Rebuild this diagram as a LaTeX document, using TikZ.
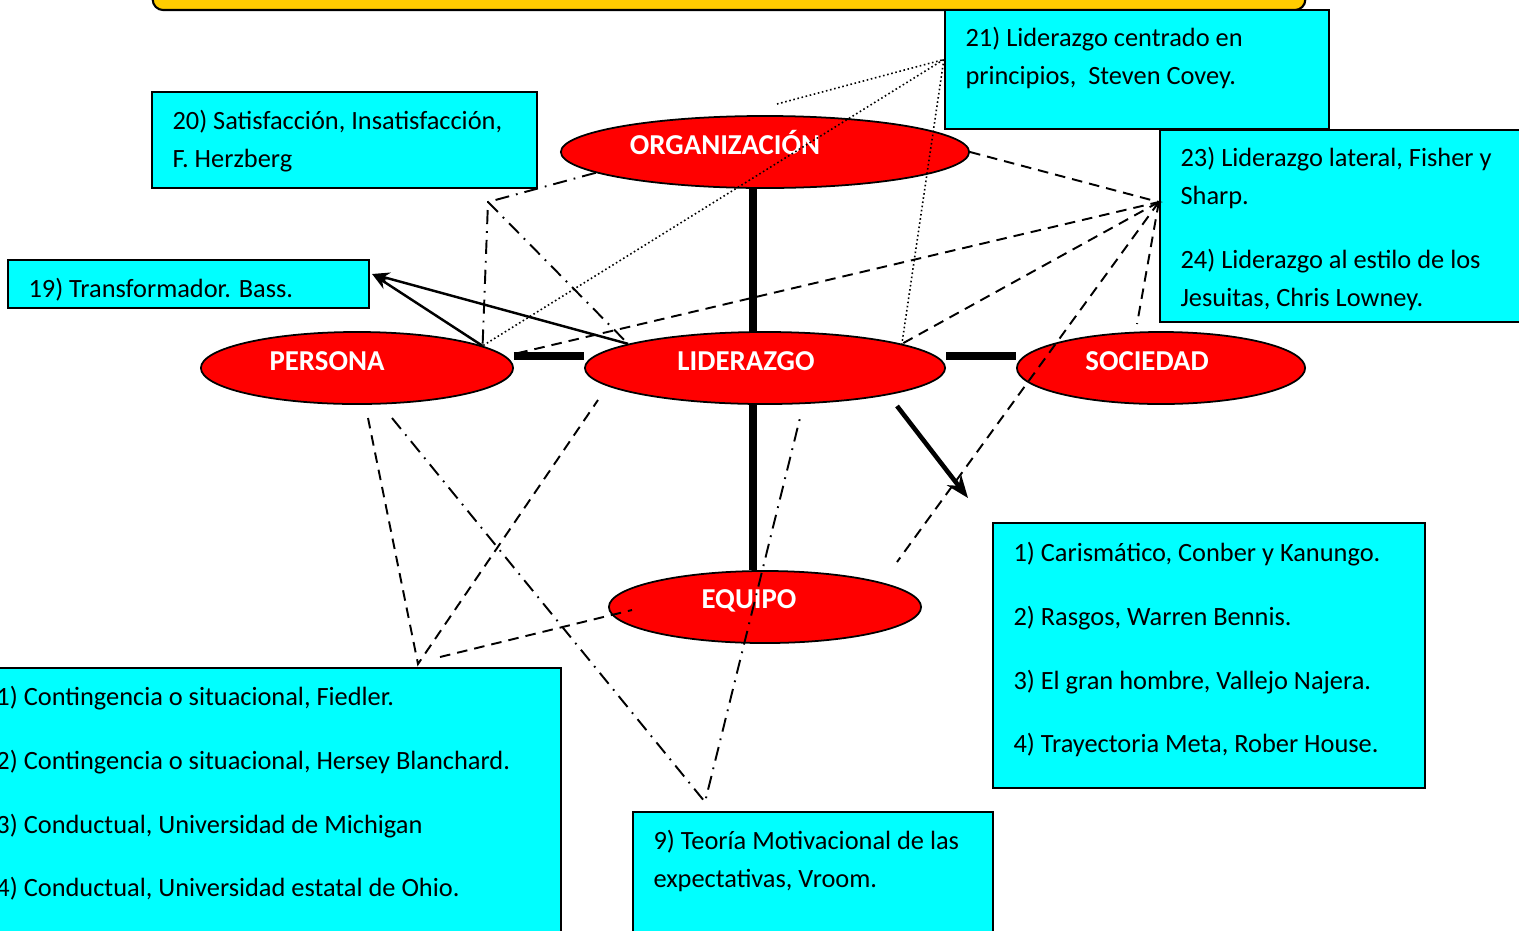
\documentclass[tikz,border=0pt]{standalone}
\usepackage{fontspec}
\setmainfont{Carlito}
\usepackage{tikz}
\usetikzlibrary{positioning, shapes.geometric, arrows.meta, calc}
\definecolor{rojo}{RGB}{255, 0, 0}
\definecolor{cian}{RGB}{0, 255, 255}
\definecolor{amarillo}{RGB}{255, 204, 0}
\newcommand{\lineas}[1]{\begin{tabular}[t]{@{}l@{}}#1\end{tabular}}

\begin{document}
\begin{tikzpicture}[x=0.01cm, y=-0.01cm, >=Stealth,
    ovalo/.style={draw, ellipse, fill=rojo, line width=0.5pt, inner sep=0pt, minimum height=0.72cm},
    rotulo/.style={font=\fontsize{8.2}{9.8}\selectfont\bfseries, text=white, inner sep=0pt},
    caja/.style={draw, rectangle, fill=cian, line width=0.6pt, inner sep=0pt},
    texto/.style={font=\fontsize{7.5}{10.8}\selectfont, anchor=base west, inner sep=0pt},
    barra/.style={line width=2pt},
    guion/.style={line width=0.55pt, dash pattern=on 3pt off 2pt},
    punteado/.style={line width=0.45pt, dash pattern=on 0.45pt off 0.75pt},
    rayapunto/.style={line width=0.55pt, dash pattern=on 4pt off 2pt on 0.5pt off 2pt},
    flecha/.style={line width=0.7pt, -{Stealth[length=5pt, width=3.6pt]}}]
    \path[use as bounding box, clip] (0,0) rectangle (1519,930);

    % Cuadros de autores
    \node [caja, fill=amarillo, rounded corners=3pt, minimum width=11.52cm, minimum height=0.8cm] (titulo) at (729,-30) {};
    \node [caja, minimum width=3.84cm, minimum height=1.19cm] (c21) at (1137,69.5) {};
    \node [caja, minimum width=3.85cm, minimum height=0.96cm] (c20) at (344.5,140) {};
    \node [caja, minimum width=3.80cm, minimum height=1.92cm] (c23) at (1350,226) {};
    \node [caja, minimum width=3.61cm, minimum height=0.48cm] (c19) at (188.5,284) {};
    \node [caja, minimum width=4.32cm, minimum height=2.65cm] (c1) at (1209,655.5) {};
    \node [caja, minimum width=5.85cm, minimum height=2.92cm] (c11) at (268.5,814) {};
    \node [caja, minimum width=3.60cm, minimum height=1.48cm] (c9) at (813,886) {};

    \node [texto] (x21) at ($(c21.north west)+(21,38)$) {\lineas{21) Liderazgo centrado en\\ principios,\ \ Steven Covey.}};
    \node [texto] (x20) at ($(c20.north west)+(21,39)$) {\lineas{20) Satisfacción, Insatisfacción,\\ F. Herzberg}};
    \node [texto] (x23) at ($(c23.north west)+(21,38)$) {\lineas{23) Liderazgo lateral, Fisher y\\ Sharp.\\[7.3pt] 24) Liderazgo al estilo de los\\ Jesuitas, Chris Lowney.}};
    \node [texto] (x19) at ($(c19.north west)+(21,39)$) {19) Transformador. Bass.};
    \node [texto] (x1) at ($(c1.north west)+(21,40)$) {\lineas{1) Carismático, Conber y Kanungo.\\[7.3pt] 2) Rasgos, Warren Bennis.\\[7.3pt] 3) El gran hombre, Vallejo Najera.\\[7.3pt] 4) Trayectoria Meta, Rober House.}};
    \node [texto] (x11) at ($(c11.north west)+(21,39)$) {\lineas{1) Contingencia o situacional, Fiedler.\\[7.3pt] 2) Contingencia o situacional, Hersey Blanchard.\\[7.3pt] 3) Conductual, Universidad de Michigan\\[7.3pt] 4) Conductual, Universidad estatal de Ohio.}};
    \node [texto] (x9) at ($(c9.north west)+(21,39)$) {\lineas{9) Teoría Motivacional de las\\ expectativas, Vroom.}};

    % Elipses
    \node [ovalo, minimum width=4.08cm] (org) at (765,152) {};
    \node [ovalo, minimum width=3.12cm] (per) at (357,368) {};
    \node [ovalo, minimum width=3.60cm] (lid) at (765,368) {};
    \node [ovalo, minimum width=2.88cm] (soc) at (1161,368) {};
    \node [ovalo, minimum width=3.12cm] (eq) at (765,607) {};
    \node [rotulo] (orgt) at ($(org)+(-40,-10)$) {ORGANIZACIÓN};
    \node [rotulo] (pert) at ($(per)+(-30,-7)$) {PERSONA};
    \node [rotulo] (lidt) at ($(lid)+(-19,-7)$) {LIDERAZGO};
    \node [rotulo] (soct) at ($(soc)+(-14,-7)$) {SOCIEDAD};
    \node [rotulo] (eqt) at ($(eq)+(-16,-6)$) {EQUIPO};

    % Uniones
    \draw [barra] ($(org.south)+(-12,0)$) -- ($(lid.north)+(-12,0)$);
    \draw [barra] ($(lid.south)+(-12,0)$) -- ($(eq.north)+(-12,0)$);
    \draw [barra, line width=2.4pt] ($(per.east)+(0,-12)$) -- ($(lid.west)+(0,-12)$);
    \draw [barra, line width=2.4pt] ($(lid.east)+(0,-12)$) -- ($(soc.west)+(0,-12)$);

    \coordinate (p21) at ($(c21.west)+(0,-10)$);
    \coordinate (p23) at ($(c23.west)+(0,-24)$);
    \coordinate (f19) at ($(c19.east)+(2,-10)$);
    \coordinate (vA) at (488,202);
    \coordinate (vB) at (705,802);
    \coordinate (vC) at (418,664);
    \coordinate (q1) at (777,104);
    \coordinate (q2) at (897,562);
    \coordinate (q3) at (1137,324);
    \coordinate (q4) at (392,418);
    \coordinate (q5) at (800,418);
    \coordinate (q6) at (368,418);
    \coordinate (q7) at (598,400);
    \coordinate (q8) at (440,657);
    \coordinate (fa) at (897,406);
    \coordinate (fb) at (968,498);

    % Relaciones
    \draw [punteado] (q1) -- (p21) -- (per.10);
    \draw [punteado] (p21) -- (lid.10);
    \draw [guion] (org.east) -- (p23) -- ($(per.east)+(0,-14)$);
    \draw [guion] (p23) -- (lid.10);
    \draw [guion] (p23) -- (q2);
    \draw [guion] (p23) -- (q3);
    \draw [rayapunto] (org.187) -- (vA) -- (per.10);
    \draw [rayapunto] (vA) -- (lid.170);
    \draw [rayapunto] (q4) -- (vB) -- (q5);
    \draw [guion] (q6) -- (vC) -- (q7);
    \draw [guion] (q8) -- ($(eq.west)+(24,3)$);

    % Flechas
    \draw [flecha] (per.10) -- (f19);
    \draw [flecha] (lid.170) -- (f19);
    \draw [line width=1.3pt, -{Stealth[length=6.5pt, width=5pt]}] (fa) -- (fb);
\end{tikzpicture}
\end{document}
